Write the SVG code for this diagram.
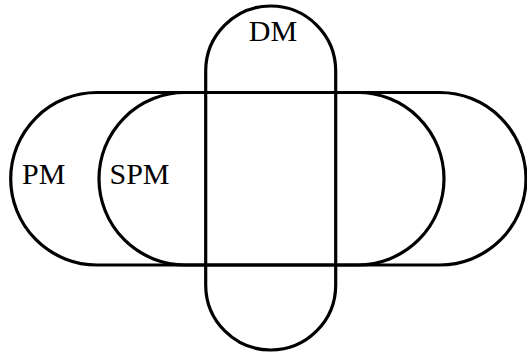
<svg xmlns="http://www.w3.org/2000/svg" width="527" height="353" viewBox="0 0 527 353">
<style>
.s{fill:none;stroke:#000;stroke-width:3.2}
.t{font-family:"Liberation Serif","DejaVu Serif",serif;font-size:30px;fill:#000}
</style>
<rect width="527" height="353" fill="#fff"/>
<g id="PM">
<rect class="s" x="10.7" y="92.5" width="515.3" height="172.5" rx="86.25" ry="86.25"/>
<text class="t" x="22" y="184">PM</text>
</g>
<g id="SPM">
<rect class="s" x="99" y="92.5" width="345" height="172.5" rx="86.25" ry="86.25"/>
<text class="t" x="109.5" y="184">SPM</text>
</g>
<g id="DM">
<rect class="s" x="205.7" y="6" width="130" height="344" rx="65" ry="65"/>
<text class="t" x="273" y="40.5" text-anchor="middle">DM</text>
</g>
<g id="connectors"/>
</svg>
